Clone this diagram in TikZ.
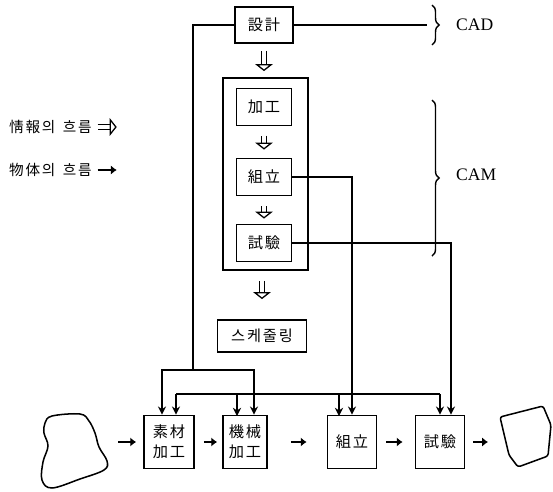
\documentclass[tikz,border=0pt]{standalone}
\usepackage{fontspec}
\setmainfont{Liberation Serif}
\newfontfamily\kr[LetterSpace=12]{Noto Sans CJK KR}
\usetikzlibrary{arrows.meta,decorations.pathreplacing,calc}

\tikzset{
  box/.style={draw, line width=1.5pt, inner sep=0pt, align=center,
    font=\kr\fontsize{13}{17}\selectfont},
  info/.style={double, double distance=3.2pt, line width=1.1pt,
    -{Triangle[open, length=6pt, width=15pt, line width=1.1pt]}},
  obj/.style={line width=2.4pt, -{Latex[length=5pt, width=8pt]}},
  sig/.style={line width=1.4pt, -{Stealth[length=7pt, width=7pt]}},
  wire/.style={line width=1.4pt},
  brc/.style={decorate, line width=1.2pt, decoration={brace, amplitude=6pt}},
}

\begin{document}
\begin{tikzpicture}[x=0.03cm, y=-0.03cm] % 1 unit = 1 px
    \useasboundingbox (0,0) rectangle (553,491);

    % --- 범례 ---
    \node[anchor=west, font=\kr\fontsize{12.5}{15}\selectfont] (leg1) at (5,127) {情報의\, 흐름};
    \node[anchor=west, font=\kr\fontsize{12.5}{15}\selectfont] (leg2) at (5,170) {物体의\, 흐름};
    \draw[info] ([xshift=0.06cm]leg1.east) -- ++(19,0);
    \draw[obj] ([xshift=0.06cm]leg2.east) -- ++(19,0);

    % --- CAD / CAM 블록 ---
    \node[box, minimum width=1.74cm, minimum height=1.08cm] (design) at (264,25) {設計};
    \node[draw, line width=1.5pt, minimum width=2.55cm, minimum height=5.76cm] (cam) at (265.5,174) {};
    \node[box, minimum width=1.65cm, minimum height=1.11cm] (proc) at (264,107) {加工};
    \node[box, minimum width=1.65cm, minimum height=1.11cm] (asmA) at (264,177) {組立};
    \node[box, minimum width=1.65cm, minimum height=1.11cm] (testA) at (264,243) {試驗};
    \node[box, minimum width=2.67cm, minimum height=0.96cm] (sched) at (262,336) {스케줄링};

    % 정보 흐름 화살표
    \draw[info, shorten <=0.21cm, shorten >=0.18cm] (design.south) -- (design.south |- cam.north);
    \draw[info, shorten <=0.28cm, shorten >=0.24cm] (proc) -- (asmA);
    \draw[info, shorten <=0.30cm, shorten >=0.15cm] (asmA) -- (testA);
    \draw[info, shorten <=0.30cm, shorten >=0.60cm] (sched.north |- cam.south) -- (sched.north);

    % --- 중괄호 ---
    \coordinate (cadend) at (427,25);
    \draw[wire] (design.east) -- (cadend);
    \draw[brc] (432,5) -- (432,45);
    \node[font=\fontsize{15}{18}\selectfont, anchor=west] (cad) at (452,25) {CAD};
    \draw[brc] (432,100) -- (432,256);
    \node[font=\fontsize{15}{18}\selectfont, anchor=west] (camlbl) at (452,175) {CAM};

    % --- 생산 라인 ---
    \node[box, minimum width=1.50cm, minimum height=1.59cm] (raw) at (169,442) {素材\\加工};
    \node[box, minimum width=1.32cm, minimum height=1.59cm] (mach) at (245,442) {機械\\加工};
    \node[box, minimum width=1.47cm, minimum height=1.59cm] (asmB) at (352,442) {組立};
    \node[box, minimum width=1.47cm, minimum height=1.59cm] (testB) at (440,442) {試驗};

    % 소재 / 제품
    \draw[line width=1.3pt] plot[smooth cycle, tension=0.6] coordinates {
      (52,416) (80,414) (89,421) (95,433) (99,447) (107,461) (104,470)
      (80,479) (52,488) (42,480) (43,462) (48,446) (44,433) (45,423)};
    \coordinate (src) at (108,442);
    \draw[line width=1.3pt, rounded corners=2pt] (500,417) -- (543,406) -- (551,425)
      -- (548,456) -- (518,467) -- (509,455) -- cycle;
    \coordinate (dst) at (500,442);

    % 물체 흐름 화살표
    \draw[obj, shorten <=0.30cm, shorten >=0.21cm] (src) -- (raw);
    \draw[obj, shorten <=0.27cm, shorten >=0.15cm] (raw) -- (mach);
    \draw[obj, shorten <=0.69cm, shorten >=0.60cm] (mach) -- (asmB);
    \draw[obj, shorten <=0.27cm, shorten >=0.36cm] (asmB) -- (testB);
    \draw[obj, shorten <=0.24cm, shorten >=0.36cm] (testB) -- (dst);

    % --- 신호선 ---
    \coordinate (j1) at (193,370);
    \draw[wire] (design.west) -| (j1);
    \draw[sig] (j1) -| ([xshift=-0.21cm]raw.north);
    \draw[sig] (j1) -| ([xshift=0.27cm]mach.north);

    \coordinate (j2) at (176,394);
    \coordinate (j3) at (440,394);
    \draw[wire] (j2) -- (j3);
    \draw[sig] (j2) -- (j2 |- raw.north);
    \draw[sig] (237,394) -- (237,416);
    \draw[sig] (339,394) -- (339,416);
    \draw[sig] (j3) -- (j3 |- testB.north);

    \draw[sig] (asmA.east) -| (asmB.north);
    \draw[sig] (testA.east) -| ([xshift=0.33cm]testB.north);

\end{tikzpicture}
\end{document}
